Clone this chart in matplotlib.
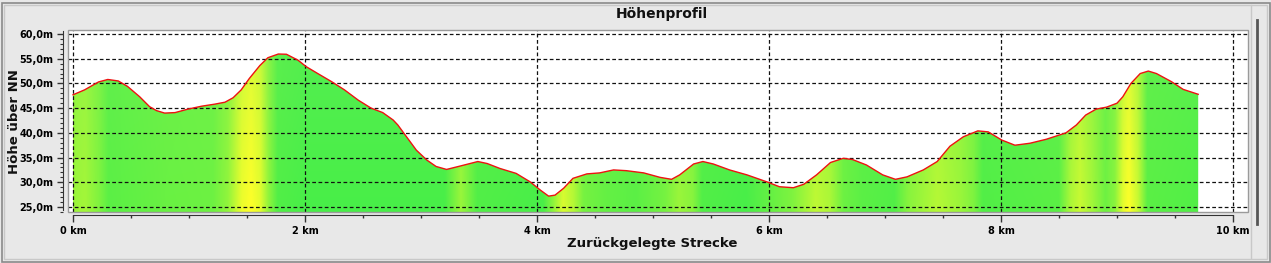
import numpy as np
import matplotlib
matplotlib.use("Agg")
import matplotlib.pyplot as plt
from matplotlib.patches import Rectangle, Polygon
from matplotlib.lines import Line2D
from matplotlib.ticker import MultipleLocator, FuncFormatter

# ---- data ----
dist_km = [0.00, 0.10, 0.22, 0.30, 0.39, 0.47, 0.575, 0.66, 0.72, 0.79, 0.88, 0.99,
           1.11, 1.22, 1.31, 1.38, 1.45, 1.52, 1.61, 1.68, 1.77, 1.84, 1.94, 2.01,
           2.11, 2.23, 2.34, 2.46, 2.57, 2.67, 2.76, 2.80, 2.96, 3.05, 3.13, 3.22,
           3.34, 3.49, 3.57, 3.68, 3.82, 3.94, 4.03, 4.10, 4.155, 4.23, 4.31, 4.43,
           4.54, 4.66, 4.77, 4.92, 5.06, 5.16, 5.23, 5.35, 5.43, 5.52, 5.66, 5.81,
           5.98, 6.09, 6.21, 6.30, 6.41, 6.53, 6.64, 6.72, 6.84, 6.98, 7.09, 7.19,
           7.33, 7.45, 7.56, 7.675, 7.80, 7.89, 8.006, 8.12, 8.25, 8.39, 8.56, 8.65,
           8.73, 8.82, 8.91, 9.00, 9.05, 9.12, 9.20, 9.27, 9.34, 9.47, 9.57, 9.70]
elev_m = [47.7, 48.7, 50.3, 50.8, 50.5, 49.4, 47.3, 45.3, 44.5, 44.0, 44.1, 44.8,
          45.4, 45.8, 46.2, 47.1, 48.7, 51.0, 53.6, 55.2, 55.95, 55.9, 54.7, 53.4,
          52.0, 50.35, 48.7, 46.6, 45.0, 44.1, 42.6, 41.6, 36.5, 34.5, 33.2, 32.6,
          33.3, 34.2, 33.8, 32.8, 31.8, 30.1, 28.4, 27.2, 27.4, 28.8, 30.8, 31.7,
          31.9, 32.5, 32.35, 31.9, 31.0, 30.6, 31.5, 33.7, 34.2, 33.7, 32.5, 31.5,
          30.1, 29.1, 28.9, 29.6, 31.5, 34.0, 34.85, 34.6, 33.5, 31.5, 30.6, 31.1,
          32.5, 34.2, 37.3, 39.2, 40.4, 40.2, 38.55, 37.5, 37.9, 38.7, 40.0, 41.6,
          43.6, 44.8, 45.2, 46.0, 47.3, 50.0, 52.0, 52.5, 52.0, 50.35, 48.8, 47.8]

# yellowness of the fill colouring (0 = green, 1 = yellow)
tint_km = [0.00, 0.10, 0.22, 0.30, 0.80, 1.20, 1.33, 1.45, 1.53, 1.61, 1.68, 1.76, 2.0,
           3.20, 3.34, 3.48, 4.05, 4.14, 4.22, 4.31, 4.40, 4.60, 4.85, 5.10, 5.22, 5.34,
           5.42, 5.80, 6.20, 6.40, 6.52, 6.64, 6.80, 7.08, 7.20, 7.45, 7.65, 7.76, 7.84,
           8.50, 8.60, 8.68, 8.78, 8.90, 8.98, 9.05, 9.10, 9.18, 9.26, 9.70]
tint_val = [0.45, 0.50, 0.30, 0.10, 0.18, 0.20, 0.40, 0.90, 1.00, 0.85, 0.40, 0.05, 0.0,
            0.00, 0.45, 0.05, 0.00, 0.40, 0.80, 0.60, 0.25, 0.15, 0.10, 0.25, 0.45, 0.35,
            0.05, 0.00, 0.30, 0.65, 0.55, 0.20, 0.10, 0.05, 0.35, 0.60, 0.45, 0.30, 0.05,
            0.10, 0.55, 0.70, 0.50, 0.20, 0.35, 0.85, 1.00, 0.70, 0.10, 0.05]

x_major = [0, 2, 4, 6, 8, 10]
y_major = [25, 30, 35, 40, 45, 50, 55, 60]

title = "Höhenprofil"
xlabel = "Zurückgelegte Strecke"
ylabel = "Höhe über NN"

# ---- figure ----
W, H = 1271, 263
fig = plt.figure(figsize=(W / 100, H / 100), dpi=100)
bg = "#e8e8e8"
fig.patch.set_facecolor(bg)

def fx(px):
    return px / W

def fy(py):
    return 1 - py / H

ax_l, ax_r, ax_t, ax_b = 68, 1248, 30, 212
ax = fig.add_axes([fx(ax_l), fy(ax_b), fx(ax_r - ax_l), (ax_b - ax_t) / H])
ax.set_facecolor("white")

xlim = (-5 / 116, (ax_r - 73) / 116)
ylim = (25 - (ax_b - 207) / 4.943, 60 + (34 - ax_t) / 4.943)
ax.set_xlim(*xlim)
ax.set_ylim(*ylim)

# gradient fill clipped to profile
green = np.array([72, 238, 72]) / 255
yellow = np.array([255, 255, 40]) / 255
xs = np.linspace(dist_km[0], dist_km[-1], 800)
t = np.interp(xs, tint_km, tint_val)
row = green[None, :] * (1 - t[:, None]) + yellow[None, :] * t[:, None]
ny = 60
vert = np.linspace(1.0, 0.0, ny)[:, None, None]  # top row first
light = np.array([120, 240, 100]) / 255
img = row[None, :, :] * (1 - 0.25 * vert) + light[None, None, :] * 0.25 * vert
img = np.clip(img, 0, 1)
im = ax.imshow(img, extent=[dist_km[0], dist_km[-1], ylim[0], max(elev_m) + 1],
               aspect="auto", zorder=1, interpolation="bilinear")
poly_pts = [(dist_km[0], ylim[0])] + list(zip(dist_km, elev_m)) + [(dist_km[-1], ylim[0])]
poly = Polygon(poly_pts, closed=True, facecolor="none", edgecolor="none")
ax.add_patch(poly)
im.set_clip_path(poly)
ax.plot(dist_km, elev_m, color="#ee1111", lw=1.0, zorder=3, solid_joinstyle="round")

# grid
for xv in x_major:
    ax.axvline(xv, color="#111111", lw=0.9, ls=(0, (3, 2)), zorder=2)
for yv in y_major:
    ax.axhline(yv, color="#111111", lw=0.9, ls=(0, (3, 2)), zorder=2)

# axes styling
for s in ["top", "right"]:
    ax.spines[s].set_visible(False)
ax.spines["left"].set_position(("outward", 3.6))
ax.spines["bottom"].set_position(("outward", 2.2))
ax.spines["left"].set_bounds(24.3, 60.6)
ax.spines["bottom"].set_bounds(0, 10)
ax.spines["left"].set_color("#333333")
ax.spines["bottom"].set_color("#333333")

ax.xaxis.set_major_locator(MultipleLocator(2))
ax.xaxis.set_minor_locator(MultipleLocator(0.5))
ax.yaxis.set_major_locator(MultipleLocator(5))
ax.yaxis.set_minor_locator(MultipleLocator(1))
ax.xaxis.set_major_formatter(FuncFormatter(lambda v, p: f"{v:.0f} km"))
ax.yaxis.set_major_formatter(FuncFormatter(lambda v, p: f"{v:.1f}m".replace(".", ",")))
ax.tick_params(axis="x", which="major", length=5, width=1, color="#333333",
               labelsize=7, pad=3)
ax.tick_params(axis="x", which="minor", length=2.5, width=1, color="#333333")
ax.tick_params(axis="y", which="major", length=4, width=1, color="#333333",
               labelsize=7, pad=3)
ax.tick_params(axis="y", which="minor", length=2.5, width=0.8, color="#333333")
for lab in ax.get_xticklabels() + ax.get_yticklabels():
    lab.set_fontweight("bold")

# plot area frame
ax.add_patch(Rectangle((0, 0), 1, 1, transform=ax.transAxes, fill=False,
                       edgecolor="#9a9a9a", lw=1.0, zorder=5, clip_on=False))

# titles
fig.text(fx(662), fy(14), title, ha="center", va="center",
         fontsize=10, fontweight="bold", color="#111111")
fig.text(fx(652), fy(244), xlabel, ha="center", va="center",
         fontsize=9.5, fontweight="bold", color="#111111")
fig.text(fx(15), fy(122), ylabel, ha="center", va="center", rotation=90,
         fontsize=9.5, fontweight="bold", color="#111111")

# outer frame and right-hand bar
fig.add_artist(Rectangle((fx(1.5), fy(261.5)), fx(1268), (259) / H, transform=fig.transFigure,
                         fill=False, edgecolor="#8a8a8a", lw=1.2))
fig.add_artist(Rectangle((fx(4), fy(259)), fx(1263), (254) / H, transform=fig.transFigure,
                         fill=False, edgecolor="#c8c8c8", lw=1.0))
fig.add_artist(Line2D([fx(1251), fx(1251)], [fy(5), fy(258)], transform=fig.transFigure,
                      color="#c8c8c8", lw=1.0))
fig.add_artist(Line2D([fx(1257), fx(1257)], [fy(20), fy(224)], transform=fig.transFigure,
                      color="#555555", lw=2.0))

fig.savefig("out.png", dpi=100, facecolor=fig.get_facecolor())
